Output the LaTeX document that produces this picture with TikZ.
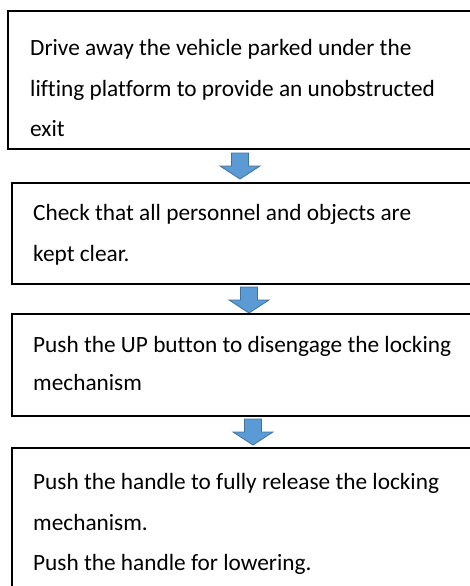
\documentclass[tikz,border=0pt]{standalone}
\usepackage{fontspec}
\setmainfont{Carlito}[Ligatures=NoCommon]
\usepackage{tikz}
\definecolor{arrowfill}{RGB}{91,155,213}
\definecolor{arrowedge}{RGB}{65,113,156}
\tikzset{
	boxline/.style={line width=1.4pt, color=black},
	steptext/.style={anchor=base west, inner sep=0pt, font=\fontsize{23.3}{37}\selectfont},
	arrowstyle/.style={fill=arrowfill, draw=arrowedge, line width=0.8pt, line join=miter}
}
\def\blockarrow(#1,#2){\draw[arrowstyle] ({#1-8.5},#2) -- ({#1+8.5},#2) -- ({#1+8.5},{#2+13}) -- ({#1+20},{#2+13}) -- (#1,{#2+26}) -- ({#1-20},{#2+13}) -- ({#1-8.5},{#2+13}) -- cycle;}

\begin{document}
\begin{tikzpicture}[x=1pt, y=-1pt]
			%%%%% START %%%%%
			\useasboundingbox (0,0) rectangle (470,586);
			\clip (0,0) rectangle (470,586);
			
			\draw[boxline] (8, 11) rectangle (490, 149);
			\node[steptext] (drive1) at (30, 56) {Drive away the vehicle parked under the};
			\node[steptext] (drive2) at (30, 96) {lifting platform to provide an unobstructed};
			\node[steptext] (drive3) at (30, 136) {exit};
			
			\blockarrow(240,153)
			
			\draw[boxline] (12, 183) rectangle (490, 284);
			\node[steptext] (check1) at (33, 220) {Check that all personnel and objects are};
			\node[steptext] (check2) at (33, 261) {kept clear.};
			
			\blockarrow(249,287)
			
			\draw[boxline] (12, 314) rectangle (490, 416);
			\node[steptext] (push1) at (33, 352) {Push the UP button to disengage the locking};
			\node[steptext] (push2) at (33, 390) {mechanism};
			
			\blockarrow(253,419)
			
			\draw[boxline] (12, 448) rectangle (490, 620);
			\node[steptext] (handle1) at (33, 489) {Push the handle to fully release the locking};
			\node[steptext] (handle2) at (33, 530) {mechanism.};
			\node[steptext] (handle3) at (33, 570) {Push the handle for lowering.};
			%%%%% END %%%%%
\end{tikzpicture}
\end{document}
